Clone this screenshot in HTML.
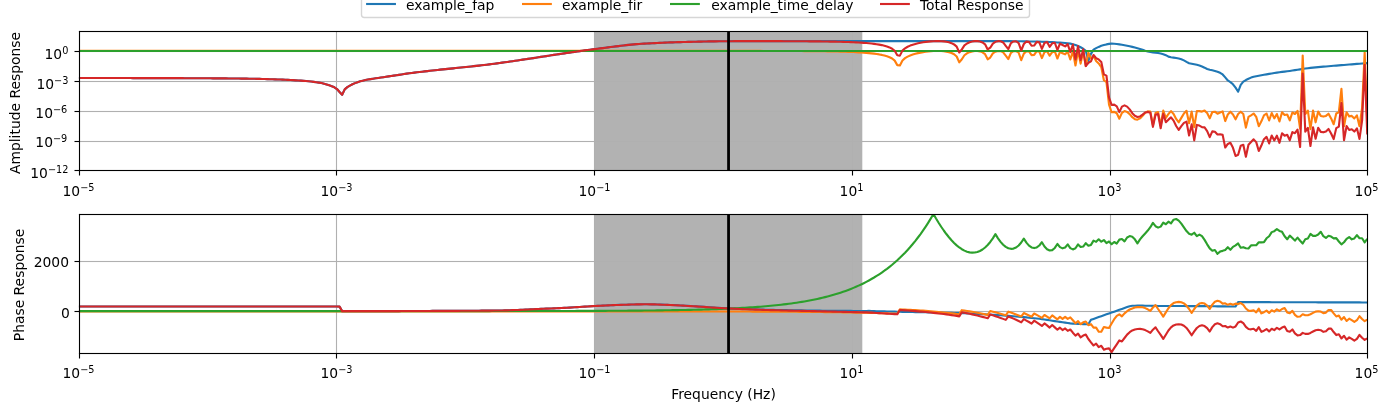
<!DOCTYPE html>
<html lang="en"><head><meta charset="utf-8"><title>Filter response</title>
<style>html,body{margin:0;padding:0;background:#fff;overflow:hidden}svg{display:block}text{font-variant-ligatures:none;font-family:"DejaVu Sans","Liberation Sans",sans-serif;font-size:13.89px;fill:#000}.c{fill:none;stroke-width:2.12;stroke-linejoin:round;stroke-linecap:butt}.sup{font-size:9.72px}</style></head><body>
<svg width="1390" height="411" viewBox="0 0 1390 411">
<defs><clipPath id="c1"><rect x="78.75" y="31.04" width="1288.50" height="139.40"/></clipPath>
<clipPath id="c2"><rect x="78.75" y="214.10" width="1288.50" height="139.40"/></clipPath></defs>
<rect width="1390" height="411" fill="#fff"/>
<rect x="594.20" y="31" width="268.10" height="140" fill="#b2b2b2"/>
<rect x="335.945" y="31" width="1.11" height="139" fill="#b0b0b0"/>
<rect x="593.945" y="31" width="1.11" height="139" fill="#b0b0b0"/>
<rect x="851.945" y="31" width="1.11" height="139" fill="#b0b0b0"/>
<rect x="1109.945" y="31" width="1.11" height="139" fill="#b0b0b0"/>
<rect x="79" y="50.945" width="1288" height="1.11" fill="#b0b0b0"/>
<rect x="79" y="80.945" width="1288" height="1.11" fill="#b0b0b0"/>
<rect x="79" y="110.945" width="1288" height="1.11" fill="#b0b0b0"/>
<rect x="79" y="140.945" width="1288" height="1.11" fill="#b0b0b0"/>
<g clip-path="url(#c1)">
<path class="c" stroke="#1f77b4" d="M78.75,78.00 L81.33,78.00 L83.91,78.00 L86.50,78.00 L89.08,78.01 L91.66,78.01 L94.24,78.01 L96.83,78.01 L99.41,78.02 L101.99,78.02 L104.57,78.02 L107.15,78.03 L109.74,78.03 L112.32,78.03 L114.90,78.04 L117.48,78.04 L120.06,78.04 L122.65,78.05 L125.23,78.05 L127.81,78.06 L130.39,78.06 L132.98,78.07 L135.56,78.07 L138.14,78.08 L140.72,78.08 L143.30,78.09 L145.89,78.09 L148.47,78.10 L151.05,78.10 L153.63,78.11 L156.21,78.11 L158.80,78.12 L161.38,78.12 L163.96,78.13 L166.54,78.14 L169.13,78.14 L171.71,78.15 L174.29,78.16 L176.87,78.17 L179.45,78.17 L182.04,78.18 L184.62,78.19 L187.20,78.20 L189.78,78.21 L192.37,78.22 L194.95,78.23 L197.53,78.24 L200.11,78.25 L202.69,78.26 L205.28,78.28 L207.86,78.29 L210.44,78.30 L213.02,78.32 L215.60,78.33 L218.19,78.35 L220.77,78.37 L223.35,78.39 L225.93,78.41 L228.52,78.44 L231.10,78.46 L233.68,78.49 L236.26,78.52 L238.84,78.55 L241.43,78.58 L244.01,78.61 L246.59,78.65 L249.17,78.69 L251.76,78.73 L254.34,78.78 L256.92,78.83 L259.50,78.89 L262.08,78.96 L264.67,79.04 L267.25,79.11 L269.83,79.19 L272.41,79.28 L274.99,79.37 L277.58,79.46 L280.16,79.56 L282.74,79.67 L285.32,79.78 L287.91,79.91 L290.49,80.04 L293.07,80.18 L295.65,80.32 L298.23,80.48 L300.82,80.66 L303.40,80.85 L305.98,81.06 L308.56,81.30 L311.14,81.57 L313.73,81.88 L316.31,82.22 L318.89,82.60 L321.47,83.07 L324.06,83.71 L326.64,84.47 L329.22,85.31 L331.80,86.18 L334.38,87.28 L336.97,89.03 L339.55,92.05 L342.13,94.80 L344.71,89.35 L347.30,87.15 L349.88,85.62 L352.46,84.28 L355.04,83.12 L357.62,82.16 L360.21,81.35 L362.79,80.67 L365.37,80.07 L367.95,79.55 L370.53,79.09 L373.12,78.69 L375.70,78.32 L378.28,77.95 L380.86,77.57 L383.45,77.18 L386.03,76.79 L388.61,76.40 L391.19,76.02 L393.77,75.63 L396.36,75.25 L398.94,74.86 L401.52,74.47 L404.10,74.07 L406.68,73.67 L409.27,73.30 L411.85,72.96 L414.43,72.62 L417.01,72.30 L419.60,71.98 L422.18,71.68 L424.76,71.37 L427.34,71.08 L429.92,70.79 L432.51,70.50 L435.09,70.22 L437.67,69.95 L440.25,69.67 L442.84,69.40 L445.42,69.14 L448.00,68.87 L450.58,68.60 L453.16,68.34 L455.75,68.07 L458.33,67.81 L460.91,67.54 L463.49,67.27 L466.07,67.00 L468.66,66.73 L471.24,66.45 L473.82,66.17 L476.40,65.88 L478.99,65.59 L481.57,65.29 L484.15,64.99 L486.73,64.68 L489.31,64.36 L491.90,64.04 L494.48,63.70 L497.06,63.36 L499.64,63.01 L502.22,62.66 L504.81,62.30 L507.39,61.94 L509.97,61.57 L512.55,61.20 L515.14,60.82 L517.72,60.44 L520.30,60.05 L522.88,59.67 L525.46,59.27 L528.05,58.88 L530.63,58.49 L533.21,58.09 L535.79,57.69 L538.38,57.30 L540.96,56.90 L543.54,56.50 L546.12,56.10 L548.70,55.70 L551.29,55.31 L553.87,54.91 L556.45,54.52 L559.03,54.13 L561.61,53.74 L564.20,53.35 L566.78,52.97 L569.36,52.59 L571.94,52.22 L574.53,51.85 L577.11,51.48 L579.69,51.12 L582.27,50.77 L584.85,50.42 L587.44,50.07 L590.02,49.73 L592.60,49.40 L595.18,49.08 L597.77,48.75 L600.35,48.42 L602.93,48.08 L605.51,47.74 L608.09,47.40 L610.68,47.07 L613.26,46.73 L615.84,46.40 L618.42,46.08 L621.00,45.77 L623.59,45.46 L626.17,45.17 L628.75,44.90 L631.33,44.64 L633.92,44.40 L636.50,44.18 L639.08,43.98 L641.66,43.80 L644.24,43.64 L646.83,43.49 L649.41,43.35 L651.99,43.21 L654.57,43.07 L657.15,42.95 L659.74,42.83 L662.32,42.71 L664.90,42.61 L667.48,42.50 L670.07,42.41 L672.65,42.32 L675.23,42.24 L677.81,42.16 L680.39,42.09 L682.98,42.02 L685.56,41.95 L688.14,41.89 L690.72,41.82 L693.31,41.76 L695.89,41.70 L698.47,41.64 L701.05,41.58 L703.63,41.53 L706.22,41.48 L708.80,41.43 L711.38,41.38 L713.96,41.34 L716.54,41.31 L719.13,41.28 L721.71,41.25 L724.29,41.22 L726.87,41.21 L729.46,41.19 L732.04,41.18 L734.62,41.17 L737.20,41.16 L739.78,41.15 L742.37,41.14 L744.95,41.13 L747.53,41.12 L750.11,41.11 L752.69,41.11 L755.28,41.10 L757.86,41.10 L760.44,41.10 L763.02,41.10 L765.61,41.10 L768.19,41.10 L770.77,41.10 L773.35,41.10 L775.93,41.10 L778.52,41.10 L781.10,41.10 L783.68,41.10 L786.26,41.10 L788.85,41.10 L791.43,41.10 L794.01,41.10 L796.59,41.10 L799.17,41.10 L801.76,41.10 L804.34,41.10 L806.92,41.10 L809.50,41.10 L812.08,41.10 L814.67,41.10 L817.25,41.10 L819.83,41.10 L822.41,41.10 L825.00,41.10 L827.58,41.10 L830.16,41.10 L832.74,41.10 L835.32,41.10 L837.91,41.10 L840.49,41.10 L843.07,41.10 L845.65,41.10 L848.23,41.10 L850.82,41.10 L853.40,41.10 L855.98,41.10 L858.56,41.10 L861.15,41.10 L863.73,41.10 L866.31,41.10 L868.89,41.10 L871.47,41.10 L874.06,41.10 L876.64,41.10 L879.22,41.10 L881.80,41.10 L884.39,41.10 L886.97,41.10 L889.55,41.10 L892.13,41.10 L894.71,41.10 L897.30,41.10 L899.88,41.10 L902.46,41.10 L905.04,41.10 L907.62,41.10 L910.21,41.10 L912.79,41.10 L915.37,41.10 L917.95,41.10 L920.54,41.10 L923.12,41.10 L925.70,41.10 L928.28,41.10 L930.86,41.10 L933.45,41.10 L936.03,41.10 L938.61,41.10 L941.19,41.10 L943.78,41.10 L946.36,41.10 L948.94,41.10 L951.52,41.10 L954.10,41.10 L956.69,41.10 L959.27,41.10 L961.85,41.10 L964.43,41.10 L967.01,41.10 L969.60,41.10 L972.18,41.10 L974.76,41.10 L977.34,41.10 L979.93,41.10 L982.51,41.10 L985.09,41.10 L987.67,41.10 L990.25,41.10 L992.84,41.10 L995.42,41.10 L998.00,41.10 L1000.58,41.10 L1003.16,41.11 L1005.75,41.12 L1008.33,41.13 L1010.91,41.16 L1013.49,41.19 L1016.08,41.22 L1018.66,41.26 L1021.24,41.30 L1023.82,41.35 L1026.40,41.40 L1028.99,41.45 L1031.57,41.51 L1034.15,41.56 L1036.73,41.62 L1039.32,41.68 L1041.90,41.75 L1044.48,41.83 L1047.06,41.92 L1049.64,42.03 L1052.23,42.15 L1054.81,42.29 L1057.39,42.44 L1059.97,42.60 L1062.55,42.78 L1065.14,43.00 L1067.72,43.29 L1070.30,43.65 L1072.88,44.19 L1075.47,44.98 L1078.05,46.00 L1080.63,47.30 L1083.21,48.70 L1085.79,50.80 L1088.38,61.00 L1090.96,53.90 L1093.54,49.60 L1096.12,48.10 L1098.70,46.90 L1101.29,45.80 L1103.87,45.10 L1106.45,44.40 L1109.03,43.90 L1111.62,43.60 L1114.20,43.70 L1116.78,43.97 L1119.36,44.34 L1121.94,44.77 L1124.53,45.22 L1127.11,45.69 L1129.69,46.25 L1132.27,46.89 L1134.86,47.58 L1137.44,48.29 L1140.02,49.01 L1142.60,49.80 L1145.18,50.68 L1147.77,51.49 L1150.35,52.06 L1152.93,52.40 L1155.51,52.67 L1158.09,52.99 L1160.68,53.48 L1163.26,54.16 L1165.84,55.18 L1168.42,56.61 L1171.01,57.22 L1173.59,57.60 L1176.17,58.05 L1178.75,58.53 L1181.33,59.20 L1183.92,60.35 L1186.50,61.85 L1189.08,63.21 L1191.66,63.72 L1194.24,64.20 L1196.83,64.76 L1199.41,65.44 L1201.99,66.46 L1204.57,67.68 L1207.16,69.00 L1209.74,69.73 L1212.32,70.28 L1214.90,70.94 L1217.48,71.69 L1220.07,72.77 L1222.65,74.43 L1225.23,77.40 L1227.81,80.44 L1230.40,82.08 L1232.98,84.28 L1235.56,87.65 L1238.14,91.75 L1240.72,84.92 L1243.31,81.68 L1245.89,80.03 L1248.47,78.77 L1251.05,77.60 L1253.63,76.80 L1256.22,76.21 L1258.80,75.71 L1261.38,75.23 L1263.96,74.77 L1266.55,74.34 L1269.13,73.91 L1271.71,73.47 L1274.29,73.05 L1276.87,72.64 L1279.46,72.26 L1282.04,71.92 L1284.62,71.59 L1287.20,71.27 L1289.79,70.93 L1292.37,70.56 L1294.95,70.16 L1297.53,69.75 L1300.11,69.33 L1302.70,68.93 L1305.28,68.54 L1307.86,68.20 L1310.44,67.89 L1313.02,67.62 L1315.61,67.37 L1318.19,67.13 L1320.77,66.90 L1323.35,66.68 L1325.94,66.46 L1328.52,66.25 L1331.10,66.03 L1333.68,65.80 L1336.26,65.58 L1338.85,65.37 L1341.43,65.15 L1344.01,64.94 L1346.59,64.73 L1349.17,64.53 L1351.76,64.32 L1354.34,64.12 L1356.92,63.92 L1359.50,63.72 L1362.09,63.53 L1364.67,63.34 L1367.25,63.15"/>
<path class="c" stroke="#ff7f0e" d="M78.75,50.89 L81.33,50.89 L83.91,50.89 L86.50,50.89 L89.08,50.89 L91.66,50.89 L94.24,50.89 L96.83,50.89 L99.41,50.89 L101.99,50.89 L104.57,50.89 L107.15,50.89 L109.74,50.89 L112.32,50.89 L114.90,50.89 L117.48,50.89 L120.06,50.89 L122.65,50.89 L125.23,50.89 L127.81,50.89 L130.39,50.89 L132.98,50.89 L135.56,50.89 L138.14,50.89 L140.72,50.89 L143.30,50.89 L145.89,50.89 L148.47,50.89 L151.05,50.89 L153.63,50.89 L156.21,50.89 L158.80,50.89 L161.38,50.89 L163.96,50.89 L166.54,50.89 L169.13,50.89 L171.71,50.89 L174.29,50.89 L176.87,50.89 L179.45,50.89 L182.04,50.89 L184.62,50.89 L187.20,50.89 L189.78,50.89 L192.37,50.89 L194.95,50.89 L197.53,50.89 L200.11,50.89 L202.69,50.89 L205.28,50.89 L207.86,50.89 L210.44,50.89 L213.02,50.89 L215.60,50.89 L218.19,50.89 L220.77,50.89 L223.35,50.89 L225.93,50.89 L228.52,50.89 L231.10,50.89 L233.68,50.89 L236.26,50.89 L238.84,50.89 L241.43,50.89 L244.01,50.89 L246.59,50.89 L249.17,50.89 L251.76,50.89 L254.34,50.89 L256.92,50.89 L259.50,50.89 L262.08,50.89 L264.67,50.89 L267.25,50.89 L269.83,50.89 L272.41,50.89 L274.99,50.89 L277.58,50.89 L280.16,50.89 L282.74,50.89 L285.32,50.89 L287.91,50.89 L290.49,50.89 L293.07,50.89 L295.65,50.89 L298.23,50.89 L300.82,50.89 L303.40,50.89 L305.98,50.89 L308.56,50.89 L311.14,50.89 L313.73,50.89 L316.31,50.89 L318.89,50.89 L321.47,50.89 L324.06,50.89 L326.64,50.89 L329.22,50.89 L331.80,50.89 L334.38,50.89 L336.97,50.89 L339.55,50.89 L342.13,50.89 L344.71,50.89 L347.30,50.89 L349.88,50.89 L352.46,50.89 L355.04,50.89 L357.62,50.89 L360.21,50.89 L362.79,50.89 L365.37,50.89 L367.95,50.89 L370.53,50.89 L373.12,50.89 L375.70,50.89 L378.28,50.89 L380.86,50.89 L383.45,50.89 L386.03,50.89 L388.61,50.89 L391.19,50.89 L393.77,50.89 L396.36,50.89 L398.94,50.89 L401.52,50.89 L404.10,50.89 L406.68,50.89 L409.27,50.89 L411.85,50.89 L414.43,50.89 L417.01,50.89 L419.60,50.89 L422.18,50.89 L424.76,50.89 L427.34,50.89 L429.92,50.89 L432.51,50.89 L435.09,50.89 L437.67,50.89 L440.25,50.89 L442.84,50.89 L445.42,50.89 L448.00,50.89 L450.58,50.89 L453.16,50.89 L455.75,50.89 L458.33,50.89 L460.91,50.89 L463.49,50.89 L466.07,50.89 L468.66,50.89 L471.24,50.89 L473.82,50.89 L476.40,50.89 L478.99,50.89 L481.57,50.89 L484.15,50.89 L486.73,50.89 L489.31,50.89 L491.90,50.89 L494.48,50.89 L497.06,50.89 L499.64,50.89 L502.22,50.89 L504.81,50.89 L507.39,50.89 L509.97,50.89 L512.55,50.89 L515.14,50.89 L517.72,50.89 L520.30,50.89 L522.88,50.89 L525.46,50.89 L528.05,50.89 L530.63,50.89 L533.21,50.89 L535.79,50.89 L538.38,50.89 L540.96,50.89 L543.54,50.89 L546.12,50.89 L548.70,50.89 L551.29,50.89 L553.87,50.89 L556.45,50.89 L559.03,50.89 L561.61,50.89 L564.20,50.89 L566.78,50.89 L569.36,50.89 L571.94,50.89 L574.53,50.89 L577.11,50.89 L579.69,50.89 L582.27,50.89 L584.85,50.89 L587.44,50.89 L590.02,50.89 L592.60,50.89 L595.18,50.89 L597.77,50.89 L600.35,50.89 L602.93,50.89 L605.51,50.89 L608.09,50.89 L610.68,50.89 L613.26,50.89 L615.84,50.89 L618.42,50.89 L621.00,50.89 L623.59,50.89 L626.17,50.89 L628.75,50.89 L631.33,50.89 L633.92,50.89 L636.50,50.89 L639.08,50.90 L641.66,50.90 L644.24,50.90 L646.83,50.90 L649.41,50.90 L651.99,50.90 L654.57,50.90 L657.15,50.90 L659.74,50.90 L662.32,50.90 L664.90,50.90 L667.48,50.90 L670.07,50.90 L672.65,50.90 L675.23,50.90 L677.81,50.90 L680.39,50.90 L682.98,50.90 L685.56,50.90 L688.14,50.90 L690.72,50.90 L693.31,50.90 L695.89,50.90 L698.47,50.90 L701.05,50.90 L703.63,50.90 L706.22,50.90 L708.80,50.90 L711.38,50.90 L713.96,50.90 L716.54,50.90 L719.13,50.90 L721.71,50.90 L724.29,50.91 L726.87,50.91 L729.46,50.91 L732.04,50.91 L734.62,50.91 L737.20,50.91 L739.78,50.91 L742.37,50.91 L744.95,50.92 L747.53,50.92 L750.11,50.92 L752.69,50.92 L755.28,50.93 L757.86,50.93 L760.44,50.93 L763.02,50.94 L765.61,50.94 L768.19,50.95 L770.77,50.95 L773.35,50.96 L775.93,50.96 L778.52,50.97 L781.10,50.97 L783.68,50.98 L786.26,50.99 L788.85,51.00 L791.43,51.01 L794.01,51.02 L796.59,51.04 L799.17,51.05 L801.76,51.06 L804.34,51.08 L806.92,51.10 L809.50,51.12 L812.08,51.14 L814.67,51.17 L817.25,51.19 L819.83,51.22 L822.41,51.25 L825.00,51.29 L827.58,51.33 L830.16,51.37 L832.74,51.42 L835.32,51.47 L837.91,51.53 L840.49,51.60 L843.07,51.67 L845.65,51.75 L848.23,51.84 L850.82,51.94 L853.40,52.05 L855.98,52.18 L858.56,52.32 L861.15,52.48 L863.73,52.66 L866.31,52.86 L868.89,53.09 L871.47,53.35 L874.06,53.66 L876.64,54.01 L879.22,54.42 L881.80,54.91 L884.39,55.51 L886.97,56.25 L889.55,57.21 L892.13,58.54 L894.71,60.61 L897.30,65.11 L899.88,65.46 L902.46,60.46 L905.04,58.14 L907.62,56.60 L910.21,55.45 L912.79,54.53 L915.37,53.77 L917.95,53.13 L920.54,52.60 L923.12,52.14 L925.70,51.76 L928.28,51.46 L930.86,51.22 L933.45,51.06 L936.03,50.97 L938.61,50.96 L941.19,51.06 L943.78,51.27 L946.36,51.62 L948.94,52.18 L951.52,53.00 L954.10,54.29 L956.69,56.50 L959.27,62.33 L961.85,59.26 L964.43,55.28 L967.01,53.32 L969.60,52.12 L972.18,51.38 L974.76,51.01 L977.34,50.99 L979.93,51.37 L982.51,52.29 L985.09,54.19 L987.67,59.32 L990.25,57.56 L992.84,53.42 L995.42,51.70 L998.00,51.01 L1000.58,51.13 L1003.16,52.28 L1005.75,55.61 L1008.33,59.02 L1010.91,52.95 L1013.49,51.21 L1016.08,51.08 L1018.66,52.73 L1021.24,60.15 L1023.82,53.62 L1026.40,51.16 L1028.99,51.35 L1031.57,55.17 L1034.15,54.93 L1036.73,51.19 L1039.32,51.64 L1041.90,58.11 L1044.48,52.17 L1047.06,51.14 L1049.64,55.72 L1052.23,52.11 L1054.81,51.42 L1057.39,58.52 L1059.97,51.96 L1062.55,53.17 L1065.14,54.35 L1067.72,51.77 L1070.30,59.51 L1072.88,51.36 L1075.47,65.47 L1078.05,51.05 L1080.63,63.65 L1083.21,51.55 L1085.79,66.15 L1088.38,52.70 L1090.96,58.35 L1093.54,56.35 L1096.12,61.05 L1098.70,63.45 L1101.29,67.05 L1103.87,80.25 L1106.45,82.15 L1109.03,104.75 L1111.62,112.30 L1114.20,111.90 L1116.78,113.30 L1119.36,118.70 L1121.94,112.80 L1124.53,111.10 L1127.11,111.90 L1129.69,114.10 L1132.27,117.20 L1134.86,119.20 L1137.44,119.60 L1140.02,118.40 L1142.60,115.80 L1145.18,112.80 L1147.77,111.40 L1150.35,111.60 L1152.93,125.40 L1155.51,113.00 L1158.09,112.00 L1160.68,125.70 L1163.26,110.60 L1165.84,117.90 L1168.42,114.00 L1171.01,111.10 L1173.59,114.00 L1176.17,118.90 L1178.75,122.30 L1181.33,117.90 L1183.92,113.50 L1186.50,110.80 L1189.08,123.20 L1191.66,111.60 L1194.24,127.10 L1196.83,111.10 L1199.41,111.10 L1201.99,111.60 L1204.57,110.60 L1207.16,113.00 L1209.74,118.40 L1212.32,112.00 L1214.90,111.70 L1217.48,113.70 L1220.07,112.50 L1222.65,111.40 L1225.23,121.10 L1227.81,114.50 L1230.40,111.70 L1232.98,114.50 L1235.56,119.30 L1238.14,114.00 L1240.72,111.70 L1243.31,114.00 L1245.89,127.60 L1248.47,116.90 L1251.05,115.30 L1253.63,113.50 L1256.22,116.90 L1258.80,126.20 L1261.38,121.30 L1263.96,115.40 L1266.55,113.50 L1269.13,120.50 L1271.71,113.00 L1274.29,118.40 L1276.87,114.00 L1279.46,121.50 L1282.04,112.30 L1284.62,115.00 L1287.20,114.50 L1289.79,120.30 L1292.37,112.50 L1294.95,114.00 L1297.53,110.80 L1300.11,128.60 L1302.70,55.60 L1305.28,114.00 L1307.86,110.60 L1310.44,129.10 L1313.02,110.60 L1315.61,122.30 L1318.19,111.60 L1320.77,115.90 L1323.35,116.60 L1325.94,115.90 L1328.52,113.70 L1331.10,118.40 L1333.68,124.20 L1336.26,113.50 L1338.85,112.20 L1341.43,88.90 L1344.01,126.20 L1346.59,112.30 L1349.17,116.40 L1351.76,115.90 L1354.34,118.40 L1356.92,115.40 L1359.50,126.20 L1362.09,108.00 L1364.67,52.40 L1367.25,122.30"/>
<path class="c" stroke="#2ca02c" d="M79,50.95 L1368,50.95"/>
<path class="c" stroke="#d62728" d="M78.75,78.00 L81.33,78.00 L83.91,78.00 L86.50,78.00 L89.08,78.01 L91.66,78.01 L94.24,78.01 L96.83,78.01 L99.41,78.02 L101.99,78.02 L104.57,78.02 L107.15,78.03 L109.74,78.03 L112.32,78.03 L114.90,78.04 L117.48,78.04 L120.06,78.04 L122.65,78.05 L125.23,78.05 L127.81,78.06 L130.39,78.06 L132.98,78.07 L135.56,78.07 L138.14,78.08 L140.72,78.08 L143.30,78.09 L145.89,78.09 L148.47,78.10 L151.05,78.10 L153.63,78.11 L156.21,78.11 L158.80,78.12 L161.38,78.12 L163.96,78.13 L166.54,78.14 L169.13,78.14 L171.71,78.15 L174.29,78.16 L176.87,78.17 L179.45,78.17 L182.04,78.18 L184.62,78.19 L187.20,78.20 L189.78,78.21 L192.37,78.22 L194.95,78.23 L197.53,78.24 L200.11,78.25 L202.69,78.26 L205.28,78.28 L207.86,78.29 L210.44,78.30 L213.02,78.32 L215.60,78.33 L218.19,78.35 L220.77,78.37 L223.35,78.39 L225.93,78.41 L228.52,78.44 L231.10,78.46 L233.68,78.49 L236.26,78.52 L238.84,78.55 L241.43,78.58 L244.01,78.61 L246.59,78.65 L249.17,78.69 L251.76,78.73 L254.34,78.78 L256.92,78.83 L259.50,78.89 L262.08,78.96 L264.67,79.04 L267.25,79.11 L269.83,79.19 L272.41,79.28 L274.99,79.37 L277.58,79.46 L280.16,79.56 L282.74,79.67 L285.32,79.78 L287.91,79.91 L290.49,80.04 L293.07,80.18 L295.65,80.32 L298.23,80.48 L300.82,80.66 L303.40,80.85 L305.98,81.06 L308.56,81.30 L311.14,81.57 L313.73,81.88 L316.31,82.22 L318.89,82.60 L321.47,83.07 L324.06,83.71 L326.64,84.47 L329.22,85.31 L331.80,86.18 L334.38,87.28 L336.97,89.03 L339.55,92.05 L342.13,94.80 L344.71,89.35 L347.30,87.15 L349.88,85.62 L352.46,84.28 L355.04,83.12 L357.62,82.16 L360.21,81.35 L362.79,80.67 L365.37,80.07 L367.95,79.55 L370.53,79.09 L373.12,78.69 L375.70,78.32 L378.28,77.95 L380.86,77.57 L383.45,77.18 L386.03,76.79 L388.61,76.40 L391.19,76.02 L393.77,75.63 L396.36,75.25 L398.94,74.86 L401.52,74.47 L404.10,74.07 L406.68,73.67 L409.27,73.30 L411.85,72.96 L414.43,72.62 L417.01,72.30 L419.60,71.98 L422.18,71.68 L424.76,71.37 L427.34,71.08 L429.92,70.79 L432.51,70.50 L435.09,70.22 L437.67,69.95 L440.25,69.67 L442.84,69.40 L445.42,69.14 L448.00,68.87 L450.58,68.60 L453.16,68.34 L455.75,68.07 L458.33,67.81 L460.91,67.54 L463.49,67.27 L466.07,67.00 L468.66,66.73 L471.24,66.45 L473.82,66.17 L476.40,65.88 L478.99,65.59 L481.57,65.29 L484.15,64.99 L486.73,64.68 L489.31,64.36 L491.90,64.04 L494.48,63.70 L497.06,63.36 L499.64,63.01 L502.22,62.66 L504.81,62.30 L507.39,61.94 L509.97,61.57 L512.55,61.20 L515.14,60.82 L517.72,60.44 L520.30,60.05 L522.88,59.67 L525.46,59.27 L528.05,58.88 L530.63,58.49 L533.21,58.09 L535.79,57.69 L538.38,57.30 L540.96,56.90 L543.54,56.50 L546.12,56.10 L548.70,55.70 L551.29,55.31 L553.87,54.91 L556.45,54.52 L559.03,54.13 L561.61,53.74 L564.20,53.35 L566.78,52.97 L569.36,52.59 L571.94,52.22 L574.53,51.85 L577.11,51.48 L579.69,51.12 L582.27,50.77 L584.85,50.42 L587.44,50.07 L590.02,49.73 L592.60,49.40 L595.18,49.08 L597.77,48.75 L600.35,48.42 L602.93,48.08 L605.51,47.74 L608.09,47.40 L610.68,47.07 L613.26,46.73 L615.84,46.40 L618.42,46.08 L621.00,45.77 L623.59,45.46 L626.17,45.17 L628.75,44.90 L631.33,44.64 L633.92,44.40 L636.50,44.18 L639.08,43.98 L641.66,43.80 L644.24,43.64 L646.83,43.49 L649.41,43.35 L651.99,43.21 L654.57,43.07 L657.15,42.95 L659.74,42.83 L662.32,42.71 L664.90,42.61 L667.48,42.51 L670.07,42.41 L672.65,42.32 L675.23,42.24 L677.81,42.16 L680.39,42.09 L682.98,42.02 L685.56,41.96 L688.14,41.89 L690.72,41.82 L693.31,41.76 L695.89,41.70 L698.47,41.64 L701.05,41.59 L703.63,41.53 L706.22,41.48 L708.80,41.43 L711.38,41.39 L713.96,41.35 L716.54,41.32 L719.13,41.28 L721.71,41.26 L724.29,41.23 L726.87,41.22 L729.46,41.21 L732.04,41.19 L734.62,41.18 L737.20,41.17 L739.78,41.16 L742.37,41.16 L744.95,41.15 L747.53,41.14 L750.11,41.14 L752.69,41.14 L755.28,41.13 L757.86,41.14 L760.44,41.14 L763.02,41.14 L765.61,41.15 L768.19,41.15 L770.77,41.16 L773.35,41.16 L775.93,41.17 L778.52,41.17 L781.10,41.18 L783.68,41.19 L786.26,41.20 L788.85,41.21 L791.43,41.22 L794.01,41.23 L796.59,41.24 L799.17,41.25 L801.76,41.27 L804.34,41.29 L806.92,41.30 L809.50,41.32 L812.08,41.35 L814.67,41.37 L817.25,41.40 L819.83,41.43 L822.41,41.46 L825.00,41.50 L827.58,41.54 L830.16,41.58 L832.74,41.63 L835.32,41.68 L837.91,41.74 L840.49,41.80 L843.07,41.88 L845.65,41.96 L848.23,42.05 L850.82,42.15 L853.40,42.26 L855.98,42.38 L858.56,42.52 L861.15,42.68 L863.73,42.86 L866.31,43.06 L868.89,43.28 L871.47,43.54 L874.06,43.84 L876.64,44.19 L879.22,44.60 L881.80,45.09 L884.39,45.69 L886.97,46.43 L889.55,47.39 L892.13,48.71 L894.71,50.78 L897.30,55.28 L899.88,55.63 L902.46,50.63 L905.04,48.31 L907.62,46.77 L910.21,45.61 L912.79,44.69 L915.37,43.93 L917.95,43.29 L920.54,42.75 L923.12,42.29 L925.70,41.91 L928.28,41.61 L930.86,41.37 L933.45,41.20 L936.03,41.11 L938.61,41.11 L941.19,41.20 L943.78,41.41 L946.36,41.77 L948.94,42.32 L951.52,43.15 L954.10,44.43 L956.69,46.64 L959.27,52.48 L961.85,49.40 L964.43,45.43 L967.01,43.47 L969.60,42.27 L972.18,41.53 L974.76,41.16 L977.34,41.13 L979.93,41.51 L982.51,42.44 L985.09,44.34 L987.67,49.46 L990.25,47.70 L992.84,43.57 L995.42,41.85 L998.00,41.15 L1000.58,41.28 L1003.16,42.43 L1005.75,45.78 L1008.33,49.20 L1010.91,43.15 L1013.49,41.44 L1016.08,41.35 L1018.66,43.03 L1021.24,50.50 L1023.82,44.01 L1026.40,41.60 L1028.99,41.85 L1031.57,45.72 L1034.15,45.53 L1036.73,41.86 L1039.32,42.37 L1041.90,48.90 L1044.48,43.05 L1047.06,42.11 L1049.64,46.80 L1052.23,43.31 L1054.81,42.75 L1057.39,50.00 L1059.97,43.60 L1062.55,45.00 L1065.14,46.40 L1067.72,44.10 L1070.30,52.20 L1072.88,44.60 L1075.47,59.50 L1078.05,46.10 L1080.63,60.00 L1083.21,49.30 L1085.79,66.00 L1088.38,62.75 L1090.96,61.30 L1093.54,55.00 L1096.12,58.20 L1098.70,59.40 L1101.29,61.90 L1103.87,74.40 L1106.45,75.60 L1109.03,97.70 L1111.62,104.95 L1114.20,104.65 L1116.78,106.31 L1119.36,112.09 L1121.94,106.62 L1124.53,105.37 L1127.11,106.63 L1129.69,109.40 L1132.27,113.14 L1134.86,115.83 L1137.44,116.94 L1140.02,116.45 L1142.60,114.65 L1145.18,112.53 L1147.77,111.93 L1150.35,112.70 L1152.93,126.85 L1155.51,114.71 L1158.09,114.03 L1160.68,128.22 L1163.26,113.81 L1165.84,122.13 L1168.42,119.65 L1171.01,117.36 L1173.59,120.64 L1176.17,125.99 L1178.75,129.87 L1181.33,126.15 L1183.92,122.89 L1186.50,121.70 L1189.08,135.45 L1191.66,124.37 L1194.24,140.34 L1196.83,124.90 L1199.41,125.59 L1201.99,127.10 L1204.57,127.33 L1207.16,131.04 L1209.74,137.18 L1212.32,131.33 L1214.90,131.68 L1217.48,134.44 L1220.07,134.32 L1222.65,134.87 L1225.23,147.55 L1227.81,143.99 L1230.40,142.82 L1232.98,147.83 L1235.56,155.99 L1238.14,154.80 L1240.72,145.67 L1243.31,144.72 L1245.89,156.67 L1248.47,144.72 L1251.05,141.94 L1253.63,139.35 L1256.22,142.15 L1258.80,150.95 L1261.38,145.57 L1263.96,139.22 L1266.55,136.89 L1269.13,143.45 L1271.71,135.52 L1274.29,140.49 L1276.87,135.69 L1279.46,142.81 L1282.04,133.27 L1284.62,135.64 L1287.20,134.82 L1289.79,140.28 L1292.37,132.10 L1294.95,133.21 L1297.53,129.59 L1300.11,146.98 L1302.70,73.57 L1305.28,131.59 L1307.86,127.84 L1310.44,146.04 L1313.02,127.27 L1315.61,138.71 L1318.19,127.77 L1320.77,131.84 L1323.35,132.32 L1325.94,131.41 L1328.52,128.99 L1331.10,133.47 L1333.68,139.05 L1336.26,128.13 L1338.85,126.61 L1341.43,103.10 L1344.01,140.19 L1346.59,126.08 L1349.17,129.97 L1351.76,129.27 L1354.34,131.56 L1356.92,128.37 L1359.50,138.97 L1362.09,120.58 L1364.67,64.79 L1367.25,134.50"/>
<rect x="727.16" y="31" width="2.78" height="140" fill="#000"/>
</g>
<rect x="594.20" y="214" width="268.10" height="140" fill="#b2b2b2"/>
<rect x="335.945" y="214" width="1.11" height="139" fill="#b0b0b0"/>
<rect x="593.945" y="214" width="1.11" height="139" fill="#b0b0b0"/>
<rect x="851.945" y="214" width="1.11" height="139" fill="#b0b0b0"/>
<rect x="1109.945" y="214" width="1.11" height="139" fill="#b0b0b0"/>
<rect x="79" y="260.945" width="1288" height="1.11" fill="#b0b0b0"/>
<rect x="79" y="310.945" width="1288" height="1.11" fill="#b0b0b0"/>
<g clip-path="url(#c2)">
<path class="c" stroke="#1f77b4" d="M78.75,306.55 L81.33,306.55 L83.91,306.55 L86.50,306.55 L89.08,306.55 L91.66,306.55 L94.24,306.55 L96.83,306.55 L99.41,306.55 L101.99,306.55 L104.57,306.55 L107.15,306.55 L109.74,306.55 L112.32,306.55 L114.90,306.55 L117.48,306.55 L120.06,306.55 L122.65,306.55 L125.23,306.55 L127.81,306.55 L130.39,306.55 L132.98,306.55 L135.56,306.55 L138.14,306.55 L140.72,306.55 L143.30,306.55 L145.89,306.55 L148.47,306.55 L151.05,306.55 L153.63,306.55 L156.21,306.55 L158.80,306.55 L161.38,306.55 L163.96,306.55 L166.54,306.55 L169.13,306.55 L171.71,306.55 L174.29,306.55 L176.87,306.55 L179.45,306.55 L182.04,306.55 L184.62,306.55 L187.20,306.55 L189.78,306.55 L192.37,306.55 L194.95,306.55 L197.53,306.55 L200.11,306.55 L202.69,306.55 L205.28,306.55 L207.86,306.55 L210.44,306.55 L213.02,306.55 L215.60,306.55 L218.19,306.55 L220.77,306.55 L223.35,306.55 L225.93,306.55 L228.52,306.55 L231.10,306.55 L233.68,306.55 L236.26,306.55 L238.84,306.55 L241.43,306.55 L244.01,306.55 L246.59,306.55 L249.17,306.55 L251.76,306.55 L254.34,306.55 L256.92,306.55 L259.50,306.55 L262.08,306.55 L264.67,306.55 L267.25,306.55 L269.83,306.55 L272.41,306.55 L274.99,306.55 L277.58,306.55 L280.16,306.55 L282.74,306.55 L285.32,306.55 L287.91,306.55 L290.49,306.55 L293.07,306.55 L295.65,306.55 L298.23,306.55 L300.82,306.55 L303.40,306.55 L305.98,306.55 L308.56,306.55 L311.14,306.55 L313.73,306.55 L316.31,306.55 L318.89,306.55 L321.47,306.55 L324.06,306.55 L326.64,306.55 L329.22,306.55 L331.80,306.55 L334.38,306.55 L336.97,306.55 L339.55,306.64 L342.13,311.10 L344.71,311.11 L347.30,311.12 L349.88,311.13 L352.46,311.14 L355.04,311.14 L357.62,311.15 L360.21,311.15 L362.79,311.15 L365.37,311.15 L367.95,311.15 L370.53,311.14 L373.12,311.14 L375.70,311.14 L378.28,311.13 L380.86,311.13 L383.45,311.12 L386.03,311.11 L388.61,311.11 L391.19,311.10 L393.77,311.09 L396.36,311.08 L398.94,311.07 L401.52,311.06 L404.10,311.05 L406.68,311.04 L409.27,311.03 L411.85,311.02 L414.43,311.01 L417.01,311.00 L419.60,310.99 L422.18,310.98 L424.76,310.97 L427.34,310.96 L429.92,310.94 L432.51,310.93 L435.09,310.92 L437.67,310.91 L440.25,310.90 L442.84,310.89 L445.42,310.88 L448.00,310.86 L450.58,310.85 L453.16,310.84 L455.75,310.83 L458.33,310.82 L460.91,310.81 L463.49,310.79 L466.07,310.78 L468.66,310.76 L471.24,310.75 L473.82,310.73 L476.40,310.72 L478.99,310.70 L481.57,310.68 L484.15,310.66 L486.73,310.64 L489.31,310.61 L491.90,310.59 L494.48,310.56 L497.06,310.53 L499.64,310.50 L502.22,310.46 L504.81,310.41 L507.39,310.34 L509.97,310.26 L512.55,310.16 L515.14,310.06 L517.72,309.94 L520.30,309.82 L522.88,309.70 L525.46,309.57 L528.05,309.44 L530.63,309.32 L533.21,309.19 L535.79,309.08 L538.38,308.96 L540.96,308.86 L543.54,308.76 L546.12,308.66 L548.70,308.56 L551.29,308.46 L553.87,308.36 L556.45,308.25 L559.03,308.14 L561.61,308.02 L564.20,307.88 L566.78,307.74 L569.36,307.59 L571.94,307.43 L574.53,307.27 L577.11,307.10 L579.69,306.94 L582.27,306.78 L584.85,306.61 L587.44,306.46 L590.02,306.31 L592.60,306.16 L595.18,306.03 L597.77,305.89 L600.35,305.76 L602.93,305.62 L605.51,305.49 L608.09,305.36 L610.68,305.24 L613.26,305.13 L615.84,305.03 L618.42,304.93 L621.00,304.85 L623.59,304.77 L626.17,304.69 L628.75,304.61 L631.33,304.53 L633.92,304.46 L636.50,304.39 L639.08,304.34 L641.66,304.30 L644.24,304.28 L646.83,304.27 L649.41,304.29 L651.99,304.33 L654.57,304.39 L657.15,304.47 L659.74,304.56 L662.32,304.65 L664.90,304.76 L667.48,304.86 L670.07,304.96 L672.65,305.06 L675.23,305.18 L677.81,305.31 L680.39,305.45 L682.98,305.59 L685.56,305.74 L688.14,305.89 L690.72,306.04 L693.31,306.19 L695.89,306.34 L698.47,306.51 L701.05,306.68 L703.63,306.85 L706.22,307.03 L708.80,307.20 L711.38,307.37 L713.96,307.54 L716.54,307.71 L719.13,307.87 L721.71,308.02 L724.29,308.16 L726.87,308.29 L729.46,308.41 L732.04,308.53 L734.62,308.64 L737.20,308.74 L739.78,308.85 L742.37,308.94 L744.95,309.04 L747.53,309.13 L750.11,309.22 L752.69,309.31 L755.28,309.39 L757.86,309.47 L760.44,309.55 L763.02,309.62 L765.61,309.69 L768.19,309.76 L770.77,309.83 L773.35,309.89 L775.93,309.95 L778.52,310.00 L781.10,310.06 L783.68,310.11 L786.26,310.16 L788.85,310.20 L791.43,310.24 L794.01,310.29 L796.59,310.33 L799.17,310.37 L801.76,310.40 L804.34,310.44 L806.92,310.48 L809.50,310.52 L812.08,310.55 L814.67,310.59 L817.25,310.62 L819.83,310.66 L822.41,310.69 L825.00,310.72 L827.58,310.75 L830.16,310.78 L832.74,310.80 L835.32,310.83 L837.91,310.85 L840.49,310.87 L843.07,310.89 L845.65,310.90 L848.23,310.92 L850.82,310.93 L853.40,310.94 L855.98,310.94 L858.56,310.95 L861.15,310.95 L863.73,310.95 L866.31,310.94 L868.89,310.93 L871.47,311.04 L874.06,311.12 L876.64,311.19 L879.22,311.27 L881.80,311.34 L884.39,311.41 L886.97,311.48 L889.55,311.55 L892.13,311.61 L894.71,311.68 L897.30,311.74 L899.88,311.80 L902.46,311.85 L905.04,311.91 L907.62,311.96 L910.21,312.01 L912.79,312.06 L915.37,312.11 L917.95,312.16 L920.54,312.21 L923.12,312.26 L925.70,312.31 L928.28,312.36 L930.86,312.42 L933.45,312.47 L936.03,312.53 L938.61,312.58 L941.19,312.64 L943.78,312.70 L946.36,312.76 L948.94,312.82 L951.52,312.88 L954.10,312.95 L956.69,313.03 L959.27,313.11 L961.85,313.20 L964.43,313.29 L967.01,313.40 L969.60,313.51 L972.18,313.63 L974.76,313.75 L977.34,313.88 L979.93,314.02 L982.51,314.15 L985.09,314.29 L987.67,314.44 L990.25,314.59 L992.84,314.75 L995.42,314.91 L998.00,315.09 L1000.58,315.27 L1003.16,315.45 L1005.75,315.65 L1008.33,315.85 L1010.91,316.05 L1013.49,316.26 L1016.08,316.48 L1018.66,316.71 L1021.24,316.94 L1023.82,317.18 L1026.40,317.43 L1028.99,317.69 L1031.57,317.95 L1034.15,318.23 L1036.73,318.52 L1039.32,318.82 L1041.90,319.14 L1044.48,319.50 L1047.06,319.88 L1049.64,320.29 L1052.23,320.70 L1054.81,321.10 L1057.39,321.50 L1059.97,321.87 L1062.55,322.25 L1065.14,322.65 L1067.72,323.03 L1070.30,323.36 L1072.88,323.62 L1075.47,323.79 L1078.05,323.91 L1080.63,324.01 L1083.21,324.11 L1085.79,324.20 L1088.38,324.30 L1090.96,319.80 L1093.54,318.89 L1096.12,317.99 L1098.70,317.08 L1101.29,316.17 L1103.87,315.27 L1106.45,314.36 L1109.03,313.45 L1111.62,312.55 L1114.20,311.64 L1116.78,310.73 L1119.36,309.83 L1121.94,308.92 L1124.53,308.01 L1127.11,307.11 L1129.69,306.20 L1132.27,305.80 L1134.86,305.73 L1137.44,305.66 L1140.02,305.60 L1142.60,305.65 L1145.18,305.70 L1147.77,305.76 L1150.35,305.81 L1152.93,305.86 L1155.51,305.91 L1158.09,305.96 L1160.68,306.00 L1163.26,306.01 L1165.84,306.01 L1168.42,306.02 L1171.01,306.03 L1173.59,306.03 L1176.17,306.04 L1178.75,306.05 L1181.33,306.05 L1183.92,306.06 L1186.50,306.07 L1189.08,306.07 L1191.66,306.08 L1194.24,306.09 L1196.83,306.09 L1199.41,306.10 L1201.99,306.13 L1204.57,306.16 L1207.16,306.19 L1209.74,306.22 L1212.32,306.26 L1214.90,306.29 L1217.48,306.32 L1220.07,306.36 L1222.65,306.39 L1225.23,306.42 L1227.81,306.45 L1230.40,306.49 L1232.98,306.52 L1235.56,306.55 L1238.14,302.10 L1240.72,302.11 L1243.31,302.11 L1245.89,302.12 L1248.47,302.13 L1251.05,302.14 L1253.63,302.14 L1256.22,302.15 L1258.80,302.16 L1261.38,302.16 L1263.96,302.17 L1266.55,302.18 L1269.13,302.18 L1271.71,302.19 L1274.29,302.20 L1276.87,302.21 L1279.46,302.21 L1282.04,302.22 L1284.62,302.23 L1287.20,302.23 L1289.79,302.24 L1292.37,302.25 L1294.95,302.25 L1297.53,302.26 L1300.11,302.27 L1302.70,302.28 L1305.28,302.28 L1307.86,302.29 L1310.44,302.30 L1313.02,302.30 L1315.61,302.31 L1318.19,302.32 L1320.77,302.32 L1323.35,302.33 L1325.94,302.34 L1328.52,302.35 L1331.10,302.35 L1333.68,302.36 L1336.26,302.37 L1338.85,302.37 L1341.43,302.38 L1344.01,302.39 L1346.59,302.39 L1349.17,302.40 L1351.76,302.41 L1354.34,302.42 L1356.92,302.42 L1359.50,302.43 L1362.09,302.44 L1364.67,302.44 L1367.25,302.45"/>
<path class="c" stroke="#ff7f0e" d="M78.75,311.38 L81.33,311.38 L83.91,311.38 L86.50,311.38 L89.08,311.38 L91.66,311.38 L94.24,311.38 L96.83,311.38 L99.41,311.38 L101.99,311.38 L104.57,311.38 L107.15,311.38 L109.74,311.38 L112.32,311.38 L114.90,311.38 L117.48,311.38 L120.06,311.38 L122.65,311.38 L125.23,311.38 L127.81,311.38 L130.39,311.38 L132.98,311.38 L135.56,311.38 L138.14,311.38 L140.72,311.38 L143.30,311.38 L145.89,311.38 L148.47,311.38 L151.05,311.38 L153.63,311.38 L156.21,311.38 L158.80,311.38 L161.38,311.38 L163.96,311.38 L166.54,311.38 L169.13,311.38 L171.71,311.38 L174.29,311.38 L176.87,311.38 L179.45,311.38 L182.04,311.38 L184.62,311.38 L187.20,311.38 L189.78,311.38 L192.37,311.38 L194.95,311.38 L197.53,311.38 L200.11,311.38 L202.69,311.38 L205.28,311.38 L207.86,311.38 L210.44,311.38 L213.02,311.38 L215.60,311.38 L218.19,311.38 L220.77,311.38 L223.35,311.38 L225.93,311.38 L228.52,311.38 L231.10,311.38 L233.68,311.38 L236.26,311.38 L238.84,311.38 L241.43,311.38 L244.01,311.38 L246.59,311.38 L249.17,311.38 L251.76,311.38 L254.34,311.38 L256.92,311.38 L259.50,311.38 L262.08,311.38 L264.67,311.38 L267.25,311.38 L269.83,311.38 L272.41,311.38 L274.99,311.38 L277.58,311.38 L280.16,311.38 L282.74,311.38 L285.32,311.38 L287.91,311.38 L290.49,311.38 L293.07,311.38 L295.65,311.38 L298.23,311.38 L300.82,311.38 L303.40,311.38 L305.98,311.38 L308.56,311.38 L311.14,311.38 L313.73,311.38 L316.31,311.38 L318.89,311.38 L321.47,311.38 L324.06,311.38 L326.64,311.38 L329.22,311.38 L331.80,311.38 L334.38,311.38 L336.97,311.38 L339.55,311.38 L342.13,311.38 L344.71,311.38 L347.30,311.38 L349.88,311.38 L352.46,311.38 L355.04,311.38 L357.62,311.38 L360.21,311.38 L362.79,311.38 L365.37,311.38 L367.95,311.38 L370.53,311.38 L373.12,311.38 L375.70,311.38 L378.28,311.38 L380.86,311.38 L383.45,311.38 L386.03,311.38 L388.61,311.38 L391.19,311.38 L393.77,311.38 L396.36,311.38 L398.94,311.38 L401.52,311.38 L404.10,311.38 L406.68,311.38 L409.27,311.38 L411.85,311.38 L414.43,311.38 L417.01,311.38 L419.60,311.38 L422.18,311.38 L424.76,311.38 L427.34,311.38 L429.92,311.38 L432.51,311.38 L435.09,311.38 L437.67,311.38 L440.25,311.38 L442.84,311.38 L445.42,311.38 L448.00,311.38 L450.58,311.38 L453.16,311.38 L455.75,311.38 L458.33,311.38 L460.91,311.38 L463.49,311.38 L466.07,311.38 L468.66,311.38 L471.24,311.38 L473.82,311.38 L476.40,311.38 L478.99,311.38 L481.57,311.38 L484.15,311.38 L486.73,311.38 L489.31,311.38 L491.90,311.38 L494.48,311.38 L497.06,311.38 L499.64,311.38 L502.22,311.38 L504.81,311.38 L507.39,311.38 L509.97,311.38 L512.55,311.38 L515.14,311.38 L517.72,311.38 L520.30,311.38 L522.88,311.38 L525.46,311.38 L528.05,311.38 L530.63,311.38 L533.21,311.38 L535.79,311.38 L538.38,311.38 L540.96,311.38 L543.54,311.38 L546.12,311.38 L548.70,311.38 L551.29,311.38 L553.87,311.38 L556.45,311.38 L559.03,311.38 L561.61,311.38 L564.20,311.38 L566.78,311.38 L569.36,311.38 L571.94,311.38 L574.53,311.38 L577.11,311.38 L579.69,311.38 L582.27,311.39 L584.85,311.39 L587.44,311.39 L590.02,311.39 L592.60,311.39 L595.18,311.39 L597.77,311.39 L600.35,311.39 L602.93,311.39 L605.51,311.39 L608.09,311.39 L610.68,311.39 L613.26,311.39 L615.84,311.39 L618.42,311.39 L621.00,311.39 L623.59,311.40 L626.17,311.40 L628.75,311.40 L631.33,311.40 L633.92,311.40 L636.50,311.40 L639.08,311.40 L641.66,311.40 L644.24,311.40 L646.83,311.41 L649.41,311.41 L651.99,311.41 L654.57,311.41 L657.15,311.41 L659.74,311.41 L662.32,311.41 L664.90,311.42 L667.48,311.42 L670.07,311.42 L672.65,311.42 L675.23,311.42 L677.81,311.43 L680.39,311.43 L682.98,311.43 L685.56,311.43 L688.14,311.44 L690.72,311.44 L693.31,311.44 L695.89,311.45 L698.47,311.45 L701.05,311.45 L703.63,311.46 L706.22,311.46 L708.80,311.46 L711.38,311.47 L713.96,311.47 L716.54,311.48 L719.13,311.48 L721.71,311.49 L724.29,311.49 L726.87,311.50 L729.46,311.50 L732.04,311.51 L734.62,311.52 L737.20,311.52 L739.78,311.53 L742.37,311.54 L744.95,311.54 L747.53,311.55 L750.11,311.56 L752.69,311.57 L755.28,311.58 L757.86,311.59 L760.44,311.60 L763.02,311.61 L765.61,311.62 L768.19,311.63 L770.77,311.64 L773.35,311.66 L775.93,311.67 L778.52,311.68 L781.10,311.70 L783.68,311.71 L786.26,311.73 L788.85,311.74 L791.43,311.76 L794.01,311.78 L796.59,311.80 L799.17,311.82 L801.76,311.84 L804.34,311.86 L806.92,311.89 L809.50,311.91 L812.08,311.93 L814.67,311.96 L817.25,311.99 L819.83,312.02 L822.41,312.05 L825.00,312.08 L827.58,312.11 L830.16,312.15 L832.74,312.18 L835.32,312.22 L837.91,312.26 L840.49,312.30 L843.07,312.35 L845.65,312.39 L848.23,312.44 L850.82,312.49 L853.40,312.54 L855.98,312.59 L858.56,312.64 L861.15,312.69 L863.73,312.74 L866.31,312.80 L868.89,312.86 L871.47,312.93 L874.06,312.99 L876.64,313.06 L879.22,313.14 L881.80,313.22 L884.39,313.30 L886.97,313.39 L889.55,313.48 L892.13,313.57 L894.71,313.67 L897.30,313.78 L899.88,309.38 L902.46,309.49 L905.04,309.62 L907.62,309.75 L910.21,309.88 L912.79,310.03 L915.37,310.18 L917.95,310.33 L920.54,310.50 L923.12,310.67 L925.70,310.86 L928.28,311.05 L930.86,311.25 L933.45,311.47 L936.03,311.70 L938.61,311.94 L941.19,312.19 L943.78,312.46 L946.36,312.74 L948.94,313.03 L951.52,313.33 L954.10,313.65 L956.69,313.98 L959.27,314.33 L961.85,310.18 L964.43,310.57 L967.01,310.97 L969.60,311.39 L972.18,311.83 L974.76,312.29 L977.34,312.77 L979.93,313.28 L982.51,313.81 L985.09,314.36 L987.67,314.94 L990.25,311.03 L992.84,311.67 L995.42,312.34 L998.00,313.03 L1000.58,313.77 L1003.16,314.53 L1005.75,315.33 L1008.33,311.66 L1010.91,312.54 L1013.49,313.46 L1016.08,314.42 L1018.66,315.43 L1021.24,316.49 L1023.82,313.08 L1026.40,314.24 L1028.99,315.46 L1031.57,316.73 L1034.15,313.54 L1036.73,314.94 L1039.32,316.40 L1041.90,317.90 L1044.48,315.00 L1047.06,316.60 L1049.64,318.40 L1052.23,315.40 L1054.81,317.40 L1057.39,319.30 L1059.97,316.90 L1062.55,318.90 L1065.14,316.90 L1067.72,318.90 L1070.30,317.40 L1072.88,320.30 L1075.47,323.20 L1078.05,321.10 L1080.63,324.20 L1083.21,322.30 L1085.79,321.50 L1088.38,325.20 L1090.96,324.20 L1093.54,327.60 L1096.12,327.60 L1098.70,331.80 L1101.29,331.80 L1103.87,327.00 L1106.45,327.60 L1109.03,328.00 L1111.62,323.50 L1114.20,319.20 L1116.78,315.80 L1119.36,314.30 L1121.94,316.30 L1124.53,313.40 L1127.11,311.20 L1129.69,309.50 L1132.27,308.40 L1134.86,307.50 L1137.44,307.10 L1140.02,307.00 L1142.60,307.30 L1145.18,308.10 L1147.77,309.30 L1150.35,310.80 L1152.93,307.50 L1155.51,305.10 L1158.09,309.00 L1160.68,312.60 L1163.26,316.60 L1165.84,312.40 L1168.42,308.20 L1171.01,305.10 L1173.59,303.10 L1176.17,302.20 L1178.75,301.90 L1181.33,302.20 L1183.92,303.40 L1186.50,305.60 L1189.08,309.00 L1191.66,312.90 L1194.24,309.00 L1196.83,305.60 L1199.41,303.60 L1201.99,302.90 L1204.57,303.60 L1207.16,305.60 L1209.74,309.00 L1212.32,304.60 L1214.90,301.70 L1217.48,300.70 L1220.07,301.50 L1222.65,303.60 L1225.23,303.30 L1227.81,304.80 L1230.40,303.80 L1232.98,304.80 L1235.56,303.60 L1238.14,304.10 L1240.72,303.10 L1243.31,304.80 L1245.89,308.50 L1248.47,310.60 L1251.05,310.90 L1253.63,310.30 L1256.22,312.40 L1258.80,308.70 L1261.38,313.40 L1263.96,312.20 L1266.55,310.60 L1269.13,312.90 L1271.71,310.30 L1274.29,311.60 L1276.87,309.30 L1279.46,310.90 L1282.04,309.00 L1284.62,308.00 L1287.20,312.40 L1289.79,313.20 L1292.37,310.90 L1294.95,314.80 L1297.53,316.80 L1300.11,316.50 L1302.70,314.30 L1305.28,315.30 L1307.86,315.30 L1310.44,314.30 L1313.02,312.90 L1315.61,311.60 L1318.19,311.20 L1320.77,311.60 L1323.35,313.20 L1325.94,312.60 L1328.52,310.00 L1331.10,310.00 L1333.68,313.40 L1336.26,316.40 L1338.85,315.60 L1341.43,319.70 L1344.01,317.10 L1346.59,321.00 L1349.17,318.70 L1351.76,320.20 L1354.34,321.90 L1356.92,320.20 L1359.50,316.20 L1362.09,319.00 L1364.67,321.20 L1367.25,319.70"/>
<path class="c" stroke="#2ca02c" d="M78.75,311.10 L81.33,311.10 L83.91,311.10 L86.50,311.10 L89.08,311.10 L91.66,311.10 L94.24,311.10 L96.83,311.10 L99.41,311.10 L101.99,311.10 L104.57,311.10 L107.15,311.10 L109.74,311.10 L112.32,311.10 L114.90,311.10 L117.48,311.10 L120.06,311.10 L122.65,311.10 L125.23,311.10 L127.81,311.10 L130.39,311.10 L132.98,311.10 L135.56,311.10 L138.14,311.10 L140.72,311.10 L143.30,311.10 L145.89,311.10 L148.47,311.10 L151.05,311.10 L153.63,311.10 L156.21,311.10 L158.80,311.10 L161.38,311.10 L163.96,311.10 L166.54,311.10 L169.13,311.10 L171.71,311.10 L174.29,311.10 L176.87,311.10 L179.45,311.10 L182.04,311.10 L184.62,311.10 L187.20,311.10 L189.78,311.10 L192.37,311.10 L194.95,311.10 L197.53,311.10 L200.11,311.10 L202.69,311.10 L205.28,311.10 L207.86,311.10 L210.44,311.10 L213.02,311.10 L215.60,311.10 L218.19,311.10 L220.77,311.10 L223.35,311.10 L225.93,311.10 L228.52,311.10 L231.10,311.10 L233.68,311.10 L236.26,311.10 L238.84,311.10 L241.43,311.10 L244.01,311.10 L246.59,311.10 L249.17,311.10 L251.76,311.10 L254.34,311.10 L256.92,311.10 L259.50,311.10 L262.08,311.10 L264.67,311.10 L267.25,311.10 L269.83,311.10 L272.41,311.10 L274.99,311.10 L277.58,311.10 L280.16,311.10 L282.74,311.10 L285.32,311.10 L287.91,311.10 L290.49,311.10 L293.07,311.10 L295.65,311.10 L298.23,311.10 L300.82,311.10 L303.40,311.10 L305.98,311.10 L308.56,311.10 L311.14,311.10 L313.73,311.10 L316.31,311.10 L318.89,311.10 L321.47,311.10 L324.06,311.10 L326.64,311.10 L329.22,311.10 L331.80,311.10 L334.38,311.10 L336.97,311.10 L339.55,311.10 L342.13,311.10 L344.71,311.10 L347.30,311.10 L349.88,311.10 L352.46,311.10 L355.04,311.10 L357.62,311.10 L360.21,311.10 L362.79,311.10 L365.37,311.10 L367.95,311.10 L370.53,311.10 L373.12,311.10 L375.70,311.10 L378.28,311.10 L380.86,311.10 L383.45,311.09 L386.03,311.09 L388.61,311.09 L391.19,311.09 L393.77,311.09 L396.36,311.09 L398.94,311.09 L401.52,311.09 L404.10,311.09 L406.68,311.09 L409.27,311.09 L411.85,311.09 L414.43,311.09 L417.01,311.09 L419.60,311.09 L422.18,311.09 L424.76,311.09 L427.34,311.09 L429.92,311.09 L432.51,311.09 L435.09,311.09 L437.67,311.09 L440.25,311.09 L442.84,311.08 L445.42,311.08 L448.00,311.08 L450.58,311.08 L453.16,311.08 L455.75,311.08 L458.33,311.08 L460.91,311.08 L463.49,311.08 L466.07,311.08 L468.66,311.08 L471.24,311.07 L473.82,311.07 L476.40,311.07 L478.99,311.07 L481.57,311.07 L484.15,311.07 L486.73,311.07 L489.31,311.07 L491.90,311.06 L494.48,311.06 L497.06,311.06 L499.64,311.06 L502.22,311.06 L504.81,311.05 L507.39,311.05 L509.97,311.05 L512.55,311.05 L515.14,311.04 L517.72,311.04 L520.30,311.04 L522.88,311.04 L525.46,311.03 L528.05,311.03 L530.63,311.03 L533.21,311.02 L535.79,311.02 L538.38,311.02 L540.96,311.01 L543.54,311.01 L546.12,311.00 L548.70,311.00 L551.29,311.00 L553.87,310.99 L556.45,310.98 L559.03,310.98 L561.61,310.97 L564.20,310.97 L566.78,310.96 L569.36,310.96 L571.94,310.95 L574.53,310.94 L577.11,310.93 L579.69,310.93 L582.27,310.92 L584.85,310.91 L587.44,310.90 L590.02,310.89 L592.60,310.88 L595.18,310.87 L597.77,310.86 L600.35,310.85 L602.93,310.84 L605.51,310.82 L608.09,310.81 L610.68,310.80 L613.26,310.78 L615.84,310.77 L618.42,310.75 L621.00,310.74 L623.59,310.72 L626.17,310.70 L628.75,310.68 L631.33,310.66 L633.92,310.64 L636.50,310.62 L639.08,310.60 L641.66,310.57 L644.24,310.55 L646.83,310.52 L649.41,310.49 L651.99,310.47 L654.57,310.44 L657.15,310.40 L659.74,310.37 L662.32,310.34 L664.90,310.30 L667.48,310.26 L670.07,310.22 L672.65,310.18 L675.23,310.14 L677.81,310.09 L680.39,310.05 L682.98,310.00 L685.56,309.94 L688.14,309.89 L690.72,309.83 L693.31,309.77 L695.89,309.71 L698.47,309.64 L701.05,309.57 L703.63,309.50 L706.22,309.43 L708.80,309.35 L711.38,309.27 L713.96,309.18 L716.54,309.09 L719.13,308.99 L721.71,308.89 L724.29,308.79 L726.87,308.68 L729.46,308.57 L732.04,308.45 L734.62,308.32 L737.20,308.19 L739.78,308.05 L742.37,307.91 L744.95,307.76 L747.53,307.60 L750.11,307.43 L752.69,307.26 L755.28,307.08 L757.86,306.89 L760.44,306.69 L763.02,306.48 L765.61,306.26 L768.19,306.04 L770.77,305.80 L773.35,305.55 L775.93,305.28 L778.52,305.01 L781.10,304.72 L783.68,304.42 L786.26,304.11 L788.85,303.78 L791.43,303.43 L794.01,303.07 L796.59,302.69 L799.17,302.29 L801.76,301.88 L804.34,301.44 L806.92,300.98 L809.50,300.51 L812.08,300.01 L814.67,299.48 L817.25,298.93 L819.83,298.36 L822.41,297.76 L825.00,297.13 L827.58,296.47 L830.16,295.77 L832.74,295.05 L835.32,294.29 L837.91,293.50 L840.49,292.67 L843.07,291.80 L845.65,290.89 L848.23,289.93 L850.82,288.93 L853.40,287.89 L855.98,286.79 L858.56,285.64 L861.15,284.44 L863.73,283.18 L866.31,281.86 L868.89,280.48 L871.47,279.03 L874.06,277.52 L876.64,275.93 L879.22,274.27 L881.80,272.53 L884.39,270.71 L886.97,268.81 L889.55,266.81 L892.13,264.72 L894.71,262.53 L897.30,260.23 L899.88,257.83 L902.46,255.31 L905.04,252.68 L907.62,249.92 L910.21,247.03 L912.79,244.01 L915.37,240.84 L917.95,237.52 L920.54,234.04 L923.12,230.40 L925.70,226.59 L928.28,222.60 L930.86,218.42 L933.45,214.05 L936.03,218.50 L938.61,222.73 L941.19,226.73 L943.78,230.50 L946.36,234.02 L948.94,237.28 L951.52,240.27 L954.10,242.97 L956.69,245.37 L959.27,247.46 L961.85,249.22 L964.43,250.64 L967.01,251.70 L969.60,252.38 L972.18,252.67 L974.76,252.55 L977.34,251.99 L979.93,250.98 L982.51,249.49 L985.09,247.51 L987.67,245.01 L990.25,241.96 L992.84,238.35 L995.42,234.13 L998.00,238.32 L1000.58,241.86 L1003.16,244.71 L1005.75,246.85 L1008.33,248.23 L1010.91,248.82 L1013.49,248.59 L1016.08,247.49 L1018.66,245.49 L1021.24,242.54 L1023.82,238.60 L1026.40,242.65 L1028.99,245.61 L1031.57,247.44 L1034.15,248.07 L1036.73,247.45 L1039.32,245.52 L1041.90,242.22 L1044.48,246.52 L1047.06,249.31 L1049.64,250.53 L1052.23,250.10 L1054.81,247.95 L1057.39,243.98 L1059.97,247.16 L1062.55,248.35 L1065.14,247.47 L1067.72,244.41 L1070.30,248.11 L1072.88,249.42 L1075.47,248.24 L1078.05,244.43 L1080.63,246.93 L1083.21,246.55 L1085.79,243.18 L1088.38,245.68 L1090.96,244.90 L1093.54,240.66 L1096.12,241.85 L1098.70,239.25 L1101.29,241.72 L1103.87,240.05 L1106.45,243.06 L1109.03,241.52 L1111.62,244.25 L1114.20,241.99 L1116.78,243.53 L1119.36,239.61 L1121.94,238.98 L1124.53,241.39 L1127.11,237.51 L1129.69,236.09 L1132.27,236.80 L1134.86,239.33 L1137.44,243.33 L1140.02,239.42 L1142.60,236.25 L1145.18,233.43 L1147.77,230.55 L1150.35,227.18 L1152.93,222.88 L1155.51,226.20 L1158.09,227.62 L1160.68,226.63 L1163.26,222.67 L1165.84,224.22 L1168.42,221.66 L1171.01,223.39 L1173.59,219.73 L1176.17,219.03 L1178.75,220.58 L1181.33,223.63 L1183.92,227.41 L1186.50,231.08 L1189.08,233.80 L1191.66,234.66 L1194.24,232.73 L1196.83,236.05 L1199.41,234.56 L1201.99,236.20 L1204.57,239.86 L1207.16,244.33 L1209.74,248.39 L1212.32,250.74 L1214.90,250.00 L1217.48,253.80 L1220.07,251.60 L1222.65,250.87 L1225.23,249.98 L1227.81,247.22 L1230.40,249.82 L1232.98,246.87 L1235.56,245.43 L1238.14,243.44 L1240.72,247.78 L1243.31,247.16 L1245.89,248.23 L1248.47,248.52 L1251.05,245.43 L1253.63,245.29 L1256.22,245.23 L1258.80,242.27 L1261.38,242.34 L1263.96,242.15 L1266.55,238.29 L1269.13,236.20 L1271.71,232.12 L1274.29,231.15 L1276.87,229.18 L1279.46,230.92 L1282.04,231.86 L1284.62,236.31 L1287.20,239.30 L1289.79,235.64 L1292.37,237.99 L1294.95,240.63 L1297.53,237.62 L1300.11,240.78 L1302.70,243.58 L1305.28,239.18 L1307.86,238.47 L1310.44,233.96 L1313.02,235.84 L1315.61,235.90 L1318.19,234.54 L1320.77,231.77 L1323.35,236.22 L1325.94,237.97 L1328.52,235.70 L1331.10,236.62 L1333.68,238.40 L1336.26,238.16 L1338.85,241.51 L1341.43,244.41 L1344.01,242.25 L1346.59,238.76 L1349.17,237.01 L1351.76,239.37 L1354.34,238.44 L1356.92,235.05 L1359.50,238.28 L1362.09,238.27 L1364.67,242.35 L1367.25,238.84"/>
<path class="c" stroke="#d62728" d="M78.75,306.55 L81.33,306.55 L83.91,306.55 L86.50,306.55 L89.08,306.55 L91.66,306.55 L94.24,306.55 L96.83,306.55 L99.41,306.55 L101.99,306.55 L104.57,306.55 L107.15,306.55 L109.74,306.55 L112.32,306.55 L114.90,306.55 L117.48,306.55 L120.06,306.55 L122.65,306.55 L125.23,306.55 L127.81,306.55 L130.39,306.55 L132.98,306.55 L135.56,306.55 L138.14,306.55 L140.72,306.55 L143.30,306.55 L145.89,306.55 L148.47,306.55 L151.05,306.55 L153.63,306.55 L156.21,306.55 L158.80,306.55 L161.38,306.55 L163.96,306.55 L166.54,306.55 L169.13,306.55 L171.71,306.55 L174.29,306.55 L176.87,306.55 L179.45,306.55 L182.04,306.55 L184.62,306.55 L187.20,306.55 L189.78,306.55 L192.37,306.55 L194.95,306.55 L197.53,306.55 L200.11,306.55 L202.69,306.55 L205.28,306.55 L207.86,306.55 L210.44,306.55 L213.02,306.55 L215.60,306.55 L218.19,306.55 L220.77,306.55 L223.35,306.55 L225.93,306.55 L228.52,306.55 L231.10,306.55 L233.68,306.55 L236.26,306.55 L238.84,306.55 L241.43,306.55 L244.01,306.55 L246.59,306.55 L249.17,306.55 L251.76,306.55 L254.34,306.55 L256.92,306.55 L259.50,306.55 L262.08,306.55 L264.67,306.55 L267.25,306.55 L269.83,306.55 L272.41,306.55 L274.99,306.55 L277.58,306.55 L280.16,306.55 L282.74,306.55 L285.32,306.55 L287.91,306.55 L290.49,306.55 L293.07,306.55 L295.65,306.55 L298.23,306.55 L300.82,306.55 L303.40,306.55 L305.98,306.55 L308.56,306.55 L311.14,306.55 L313.73,306.55 L316.31,306.55 L318.89,306.55 L321.47,306.55 L324.06,306.55 L326.64,306.55 L329.22,306.55 L331.80,306.55 L334.38,306.55 L336.97,306.55 L339.55,306.64 L342.13,311.10 L344.71,311.11 L347.30,311.12 L349.88,311.13 L352.46,311.14 L355.04,311.14 L357.62,311.15 L360.21,311.15 L362.79,311.15 L365.37,311.15 L367.95,311.15 L370.53,311.14 L373.12,311.14 L375.70,311.14 L378.28,311.13 L380.86,311.13 L383.45,311.12 L386.03,311.11 L388.61,311.11 L391.19,311.10 L393.77,311.09 L396.36,311.08 L398.94,311.07 L401.52,311.06 L404.10,311.05 L406.68,311.04 L409.27,311.03 L411.85,311.02 L414.43,311.01 L417.01,311.00 L419.60,310.99 L422.18,310.98 L424.76,310.97 L427.34,310.96 L429.92,310.94 L432.51,310.93 L435.09,310.92 L437.67,310.91 L440.25,310.90 L442.84,310.89 L445.42,310.88 L448.00,310.87 L450.58,310.85 L453.16,310.84 L455.75,310.83 L458.33,310.82 L460.91,310.81 L463.49,310.79 L466.07,310.78 L468.66,310.77 L471.24,310.75 L473.82,310.73 L476.40,310.72 L478.99,310.70 L481.57,310.68 L484.15,310.66 L486.73,310.64 L489.31,310.61 L491.90,310.59 L494.48,310.56 L497.06,310.53 L499.64,310.50 L502.22,310.47 L504.81,310.41 L507.39,310.34 L509.97,310.26 L512.55,310.16 L515.14,310.06 L517.72,309.95 L520.30,309.83 L522.88,309.70 L525.46,309.58 L528.05,309.45 L530.63,309.32 L533.21,309.20 L535.79,309.08 L538.38,308.97 L540.96,308.86 L543.54,308.76 L546.12,308.66 L548.70,308.57 L551.29,308.47 L553.87,308.37 L556.45,308.26 L559.03,308.14 L561.61,308.02 L564.20,307.89 L566.78,307.75 L569.36,307.59 L571.94,307.44 L574.53,307.28 L577.11,307.11 L579.69,306.95 L582.27,306.78 L584.85,306.62 L587.44,306.47 L590.02,306.32 L592.60,306.17 L595.18,306.04 L597.77,305.90 L600.35,305.77 L602.93,305.64 L605.51,305.51 L608.09,305.38 L610.68,305.26 L613.26,305.15 L615.84,305.04 L618.42,304.95 L621.00,304.87 L623.59,304.79 L626.17,304.71 L628.75,304.63 L631.33,304.55 L633.92,304.48 L636.50,304.42 L639.08,304.37 L641.66,304.33 L644.24,304.31 L646.83,304.30 L649.41,304.32 L651.99,304.36 L654.57,304.42 L657.15,304.50 L659.74,304.59 L662.32,304.69 L664.90,304.80 L667.48,304.90 L670.07,305.00 L672.65,305.11 L675.23,305.23 L677.81,305.36 L680.39,305.50 L682.98,305.65 L685.56,305.80 L688.14,305.95 L690.72,306.10 L693.31,306.25 L695.89,306.41 L698.47,306.58 L701.05,306.76 L703.63,306.93 L706.22,307.11 L708.80,307.29 L711.38,307.46 L713.96,307.64 L716.54,307.81 L719.13,307.97 L721.71,308.13 L724.29,308.28 L726.87,308.42 L729.46,308.54 L732.04,308.66 L734.62,308.78 L737.20,308.89 L739.78,309.00 L742.37,309.10 L744.95,309.21 L747.53,309.31 L750.11,309.41 L752.69,309.50 L755.28,309.59 L757.86,309.68 L760.44,309.77 L763.02,309.85 L765.61,309.94 L768.19,310.02 L770.77,310.09 L773.35,310.17 L775.93,310.24 L778.52,310.31 L781.10,310.38 L783.68,310.44 L786.26,310.51 L788.85,310.57 L791.43,310.63 L794.01,310.69 L796.59,310.75 L799.17,310.81 L801.76,310.87 L804.34,310.93 L806.92,310.99 L809.50,311.05 L812.08,311.11 L814.67,311.17 L817.25,311.24 L819.83,311.30 L822.41,311.36 L825.00,311.42 L827.58,311.49 L830.16,311.55 L832.74,311.61 L835.32,311.67 L837.91,311.74 L840.49,311.80 L843.07,311.86 L845.65,311.92 L848.23,311.98 L850.82,312.04 L853.40,312.11 L855.98,312.17 L858.56,312.23 L861.15,312.29 L863.73,312.35 L866.31,312.41 L868.89,312.47 L871.47,312.66 L874.06,312.81 L876.64,312.96 L879.22,313.12 L881.80,313.28 L884.39,313.44 L886.97,313.61 L889.55,313.78 L892.13,313.95 L894.71,314.12 L897.30,314.30 L899.88,309.96 L902.46,310.15 L905.04,310.33 L907.62,310.53 L910.21,310.72 L912.79,310.92 L915.37,311.13 L917.95,311.35 L920.54,311.57 L923.12,311.80 L925.70,312.05 L928.28,312.30 L930.86,312.57 L933.45,312.84 L936.03,313.13 L938.61,313.43 L941.19,313.73 L943.78,314.06 L946.36,314.39 L948.94,314.75 L951.52,315.12 L954.10,315.50 L956.69,315.91 L959.27,316.34 L961.85,312.28 L964.43,312.76 L967.01,313.26 L969.60,313.80 L972.18,314.36 L974.76,314.94 L977.34,315.55 L979.93,316.19 L982.51,316.86 L985.09,317.56 L987.67,318.28 L990.25,314.52 L992.84,315.32 L995.42,316.15 L998.00,317.02 L1000.58,317.93 L1003.16,318.88 L1005.75,319.88 L1008.33,316.40 L1010.91,317.49 L1013.49,318.62 L1016.08,319.80 L1018.66,321.04 L1021.24,322.33 L1023.82,319.16 L1026.40,320.57 L1028.99,322.04 L1031.57,323.58 L1034.15,320.68 L1036.73,322.36 L1039.32,324.12 L1041.90,325.94 L1044.48,323.40 L1047.06,325.38 L1049.64,327.59 L1052.23,325.00 L1054.81,327.40 L1057.39,329.70 L1059.97,327.67 L1062.55,330.05 L1065.14,328.45 L1067.72,330.83 L1070.30,329.50 L1072.88,332.70 L1075.47,335.60 L1078.05,333.60 L1080.63,337.30 L1083.21,335.60 L1085.79,334.60 L1088.38,339.00 L1090.96,342.40 L1093.54,345.50 L1096.12,343.60 L1098.70,347.10 L1101.29,345.80 L1103.87,349.70 L1106.45,348.70 L1109.03,348.40 L1111.62,352.10 L1114.20,348.20 L1116.78,344.30 L1119.36,340.40 L1121.94,341.40 L1124.53,338.00 L1127.11,334.60 L1129.69,332.20 L1132.27,330.49 L1134.86,329.53 L1137.44,329.06 L1140.02,328.90 L1142.60,329.25 L1145.18,330.10 L1147.77,331.35 L1150.35,332.91 L1152.93,329.66 L1155.51,327.31 L1158.09,331.26 L1160.68,334.90 L1163.26,338.91 L1165.84,334.71 L1168.42,330.52 L1171.01,327.43 L1173.59,325.43 L1176.17,324.54 L1178.75,324.25 L1181.33,324.55 L1183.92,325.76 L1186.50,327.96 L1189.08,331.37 L1191.66,335.28 L1194.24,331.38 L1196.83,327.99 L1199.41,326.00 L1201.99,325.32 L1204.57,326.06 L1207.16,328.09 L1209.74,331.52 L1212.32,327.15 L1214.90,324.29 L1217.48,323.32 L1220.07,324.15 L1222.65,326.29 L1225.23,326.02 L1227.81,327.55 L1230.40,326.58 L1232.98,327.62 L1235.56,326.45 L1238.14,322.50 L1240.72,321.51 L1243.31,323.21 L1245.89,326.92 L1248.47,329.03 L1251.05,329.33 L1253.63,328.74 L1256.22,330.85 L1258.80,327.15 L1261.38,331.86 L1263.96,330.67 L1266.55,329.08 L1269.13,331.38 L1271.71,328.79 L1274.29,330.10 L1276.87,327.80 L1279.46,329.41 L1282.04,327.52 L1284.62,326.52 L1287.20,330.93 L1289.79,331.74 L1292.37,329.45 L1294.95,333.35 L1297.53,335.36 L1300.11,335.07 L1302.70,332.87 L1305.28,333.88 L1307.86,333.89 L1310.44,332.89 L1313.02,331.50 L1315.61,330.21 L1318.19,329.82 L1320.77,330.22 L1323.35,331.83 L1325.94,331.24 L1328.52,328.64 L1331.10,328.65 L1333.68,332.06 L1336.26,335.06 L1338.85,334.27 L1341.43,338.38 L1344.01,335.79 L1346.59,339.69 L1349.17,337.40 L1351.76,338.91 L1354.34,340.61 L1356.92,338.92 L1359.50,334.93 L1362.09,337.73 L1364.67,339.94 L1367.25,338.45"/>
<rect x="727.16" y="214" width="2.78" height="140" fill="#000"/>
</g>
<g fill="#000">
<rect x="78.945" y="30.945" width="1289.110" height="1.11"/>
<rect x="78.945" y="169.945" width="1289.110" height="1.11"/>
<rect x="78.945" y="30.945" width="1.11" height="140.110"/>
<rect x="1366.945" y="30.945" width="1.11" height="140.110"/>
<rect x="78.945" y="171" width="1.11" height="4.5"/>
<rect x="335.945" y="171" width="1.11" height="4.5"/>
<rect x="593.945" y="171" width="1.11" height="4.5"/>
<rect x="851.945" y="171" width="1.11" height="4.5"/>
<rect x="1109.945" y="171" width="1.11" height="4.5"/>
<rect x="1366.945" y="171" width="1.11" height="4.5"/>
<rect x="74.50" y="50.945" width="4.5" height="1.11"/>
<rect x="74.50" y="80.945" width="4.5" height="1.11"/>
<rect x="74.50" y="110.945" width="4.5" height="1.11"/>
<rect x="74.50" y="140.945" width="4.5" height="1.11"/>
<rect x="74.50" y="169.945" width="4.5" height="1.11"/>
</g>
<text x="78.50" y="195.50" text-anchor="middle">10<tspan class="sup" dy="-4.40" dx="0.00">−5</tspan></text>
<text x="336.50" y="195.50" text-anchor="middle">10<tspan class="sup" dy="-4.40" dx="0.00">−3</tspan></text>
<text x="594.50" y="195.50" text-anchor="middle">10<tspan class="sup" dy="-4.40" dx="0.00">−1</tspan></text>
<text x="851.50" y="195.50" text-anchor="middle">10<tspan class="sup" dy="-4.40" dx="0.00">1</tspan></text>
<text x="1109.50" y="195.50" text-anchor="middle">10<tspan class="sup" dy="-4.40" dx="0.00">3</tspan></text>
<text x="1366.50" y="195.50" text-anchor="middle">10<tspan class="sup" dy="-4.40" dx="0.00">5</tspan></text>
<text x="68.40" y="58.80" text-anchor="end">10<tspan class="sup" dy="-4.40" dx="0.00">0</tspan></text>
<text x="68.40" y="88.80" text-anchor="end">10<tspan class="sup" dy="-4.40" dx="0.00">−3</tspan></text>
<text x="67.30" y="117.80" text-anchor="end">10<tspan class="sup" dy="-4.40" dx="0.00">−6</tspan></text>
<text x="67.30" y="146.80" text-anchor="end">10<tspan class="sup" dy="-4.40" dx="0.00">−9</tspan></text>
<text x="68.40" y="177.80" text-anchor="end">10<tspan class="sup" dy="-4.40" dx="0.00">−12</tspan></text>
<g fill="#000">
<rect x="78.945" y="213.945" width="1289.110" height="1.11"/>
<rect x="78.945" y="352.945" width="1289.110" height="1.11"/>
<rect x="78.945" y="213.945" width="1.11" height="140.110"/>
<rect x="1366.945" y="213.945" width="1.11" height="140.110"/>
<rect x="78.945" y="354" width="1.11" height="4.5"/>
<rect x="335.945" y="354" width="1.11" height="4.5"/>
<rect x="593.945" y="354" width="1.11" height="4.5"/>
<rect x="851.945" y="354" width="1.11" height="4.5"/>
<rect x="1109.945" y="354" width="1.11" height="4.5"/>
<rect x="1366.945" y="354" width="1.11" height="4.5"/>
<rect x="74.50" y="260.945" width="4.5" height="1.11"/>
<rect x="74.50" y="310.945" width="4.5" height="1.11"/>
</g>
<text x="78.50" y="377.50" text-anchor="middle">10<tspan class="sup" dy="-4.40" dx="0.00">−5</tspan></text>
<text x="336.50" y="377.50" text-anchor="middle">10<tspan class="sup" dy="-4.40" dx="0.00">−3</tspan></text>
<text x="594.50" y="377.50" text-anchor="middle">10<tspan class="sup" dy="-4.40" dx="0.00">−1</tspan></text>
<text x="851.50" y="377.50" text-anchor="middle">10<tspan class="sup" dy="-4.40" dx="0.00">1</tspan></text>
<text x="1109.50" y="377.50" text-anchor="middle">10<tspan class="sup" dy="-4.40" dx="0.00">3</tspan></text>
<text x="1366.50" y="377.50" text-anchor="middle">10<tspan class="sup" dy="-4.40" dx="0.00">5</tspan></text>
<text x="69.00" y="266.80" text-anchor="end">2000</text>
<text x="69.80" y="317.80" text-anchor="end">0</text>
<text transform="translate(19.50,103.00) rotate(-90)" text-anchor="middle">Amplitude Response</text>
<text transform="translate(23.70,285.00) rotate(-90)" text-anchor="middle">Phase Response</text>
<text x="723.50" y="398.50" text-anchor="middle">Frequency (Hz)</text>
<rect x="361.50" y="-8.00" width="668.00" height="25.50" rx="2.8" ry="2.8" fill="#fff" fill-opacity="0.8" stroke="#ccc" stroke-opacity="0.8" stroke-width="1.39"/>
<path class="c" stroke="#1f77b4" d="M366.10,4.00 L395.96,4.00"/>
<text x="405.90" y="9.80" style="letter-spacing:-0.040px">example_fap</text>
<path class="c" stroke="#ff7f0e" d="M522.00,4.00 L551.86,4.00"/>
<text x="562.00" y="9.80" style="letter-spacing:-0.080px">example_fir</text>
<path class="c" stroke="#2ca02c" d="M670.00,4.00 L699.86,4.00"/>
<text x="711.30" y="9.80" style="letter-spacing:-0.047px">example_time_delay</text>
<path class="c" stroke="#d62728" d="M880.00,4.00 L909.86,4.00"/>
<text x="920.00" y="9.80" style="letter-spacing:0.000px">Total Response</text>
</svg></body></html>
